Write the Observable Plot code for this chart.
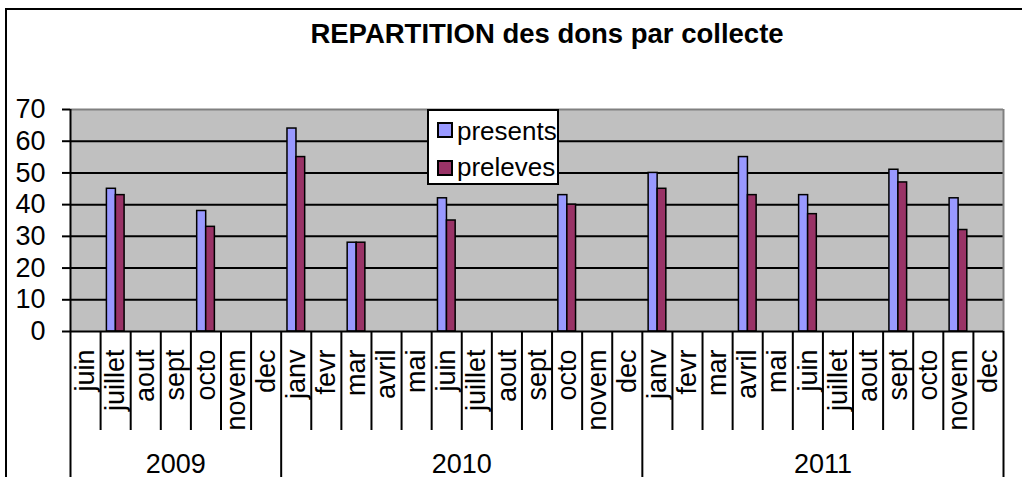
<!DOCTYPE html>
<html>
<head>
<meta charset="utf-8">
<script src="https://cdn.jsdelivr.net/npm/d3@7"></script>
<script src="https://cdn.jsdelivr.net/npm/@observablehq/plot@0.6"></script>
<style>
  body { margin: 0; background: #fff; }
  #wrap { position: relative; width: 1022px; height: 477px; overflow: hidden; background: #fff;
          font-family: "Liberation Sans", Arial, sans-serif; color: #000; }
  #border { position: absolute; left: 5px; top: 8px; width: 2000px; height: 2000px;
            border-left: 2px solid #000; border-top: 2px solid #000; }
  #chart { position: absolute; left: 0; top: 0; }
  #title { position: absolute; top: 20px; left: 547px; transform: translateX(-50%); white-space: nowrap;
           font-weight: bold; font-size: 27.5px; line-height: 1; }
  #legend { position: absolute; left: 427px; top: 109px; width: 128px; height: 72px; background: #fff;
            border: 2px solid #000; }
  .sw { position: absolute; left: 8px; width: 12px; height: 12px; border: 2px solid #000; }
  .lt { position: absolute; left: 28px; font-size: 26px; line-height: 1; white-space: nowrap; }
</style>
</head>
<body>
<div id="wrap">
  <div id="border"></div>
  <div id="chart"></div>
  <div id="title">REPARTITION des dons par collecte</div>
  <div id="legend"></div>
</div>
<script>
// ---- data ----
const months = ["juin","juillet","aout","sept","octo","novem","dec",
  "janv","fevr","mar","avril","mai","juin","juillet","aout","sept","octo","novem","dec",
  "janv","fevr","mar","avril","mai","juin","juillet","aout","sept","octo","novem","dec"];
const monthYears = [2009,2009,2009,2009,2009,2009,2009,
  2010,2010,2010,2010,2010,2010,2010,2010,2010,2010,2010,2010,
  2011,2011,2011,2011,2011,2011,2011,2011,2011,2011,2011,2011];
const presents = [null,45,null,null,38,null,null,
  64,null,28,null,null,42,null,null,null,43,null,null,
  50,null,null,55,null,43,null,null,51,null,42,null];
const preleves = [null,43,null,null,33,null,null,
  55,null,28,null,null,35,null,null,null,40,null,null,
  45,null,null,43,null,37,null,null,47,null,32,null];
const seriesNames = ["presents", "preleves"];
const seriesColors = ["#9999FF", "#993366"];
const yTicks = [0, 10, 20, 30, 40, 50, 60, 70];

// ---- derived tables ----
const rows = months.map((m, i) => ({i, month: m, year: monthYears[i], presents: presents[i], preleves: preleves[i]}));
const yearSpans = d3.groups(rows, d => d.year).map(([year, g]) => ({
  year: String(year), start: d3.min(g, d => d.i), end: d3.max(g, d => d.i) + 1
}));
const bounds = d3.range(0, months.length + 1);
const isYearBound = b => b === 0 || b === months.length || monthYears[b] !== monthYears[b - 1];
const yearBounds = bounds.filter(isYearBound);
const monthBounds = bounds.filter(b => !isYearBound(b));

const font = '"Liberation Sans", Arial, sans-serif';

const chart = Plot.plot({
  width: 1022,
  height: 477,
  marginLeft: 70,
  marginRight: 19,
  marginTop: 109,
  marginBottom: 146,
  style: {fontFamily: font, fontSize: "27px", color: "#000", background: "transparent", overflow: "visible"},
  x: {domain: [0, months.length], axis: null},
  y: {domain: [0, 70], axis: null},
  marks: [
    Plot.frame({fill: "#C0C0C0", stroke: null}),
    Plot.ruleY(yTicks.filter(v => v > 0 && v < 70), {stroke: "#000", strokeWidth: 2}),
    Plot.ruleY([70], {stroke: "#808080", strokeWidth: 2}),
    Plot.ruleX([months.length], {stroke: "#808080", strokeWidth: 2}),
    Plot.rect(rows.filter(d => d.presents != null), {
      x1: d => d.i, x2: d => d.i + 1, y1: 0, y2: "presents",
      insetLeft: 6.3, insetRight: 14.8, fill: seriesColors[0], stroke: "#000", strokeWidth: 1.5
    }),
    Plot.rect(rows.filter(d => d.preleves != null), {
      x1: d => d.i, x2: d => d.i + 1, y1: 0, y2: "preleves",
      insetLeft: 15.3, insetRight: 6.1, fill: seriesColors[1], stroke: "#000", strokeWidth: 1.5
    }),
    Plot.ruleY([0], {stroke: "#000", strokeWidth: 2}),
    Plot.ruleX([0], {stroke: "#000", strokeWidth: 2}),
    Plot.axisY({ticks: yTicks, tickSize: 8, tickPadding: 17, strokeWidth: 2, fontSize: 27, label: null, tickFormat: d => String(d)}),
    Plot.ruleX(monthBounds, {x: d => d, y1: 0, y2: 0, insetBottom: -99, stroke: "#000", strokeWidth: 2}),
    Plot.ruleX(yearBounds, {x: d => d, y1: 0, y2: 0, insetBottom: -146, stroke: "#000", strokeWidth: 2}),
    Plot.text(rows, {x: d => d.i + 0.5, y: 0, text: "month", rotate: -90, textAnchor: "end",
      lineAnchor: "middle", dy: 18, fontSize: 27, fill: "#000"}),
    Plot.text(yearSpans, {x: d => (d.start + d.end) / 2, y: 0, text: "year", textAnchor: "middle",
      lineAnchor: "bottom", dy: 141, fontSize: 27, fill: "#000"})
  ]
});
document.getElementById("chart").appendChild(chart);

// ---- legend ----
const legend = d3.select("#legend");
const tops = [11, 49];
const textTops = [7, 43];
seriesNames.forEach((name, k) => {
  legend.append("div").attr("class", "sw").style("top", tops[k] + "px").style("background", seriesColors[k]);
  legend.append("div").attr("class", "lt").style("top", textTops[k] + "px").text(name);
});
</script>
</body>
</html>
